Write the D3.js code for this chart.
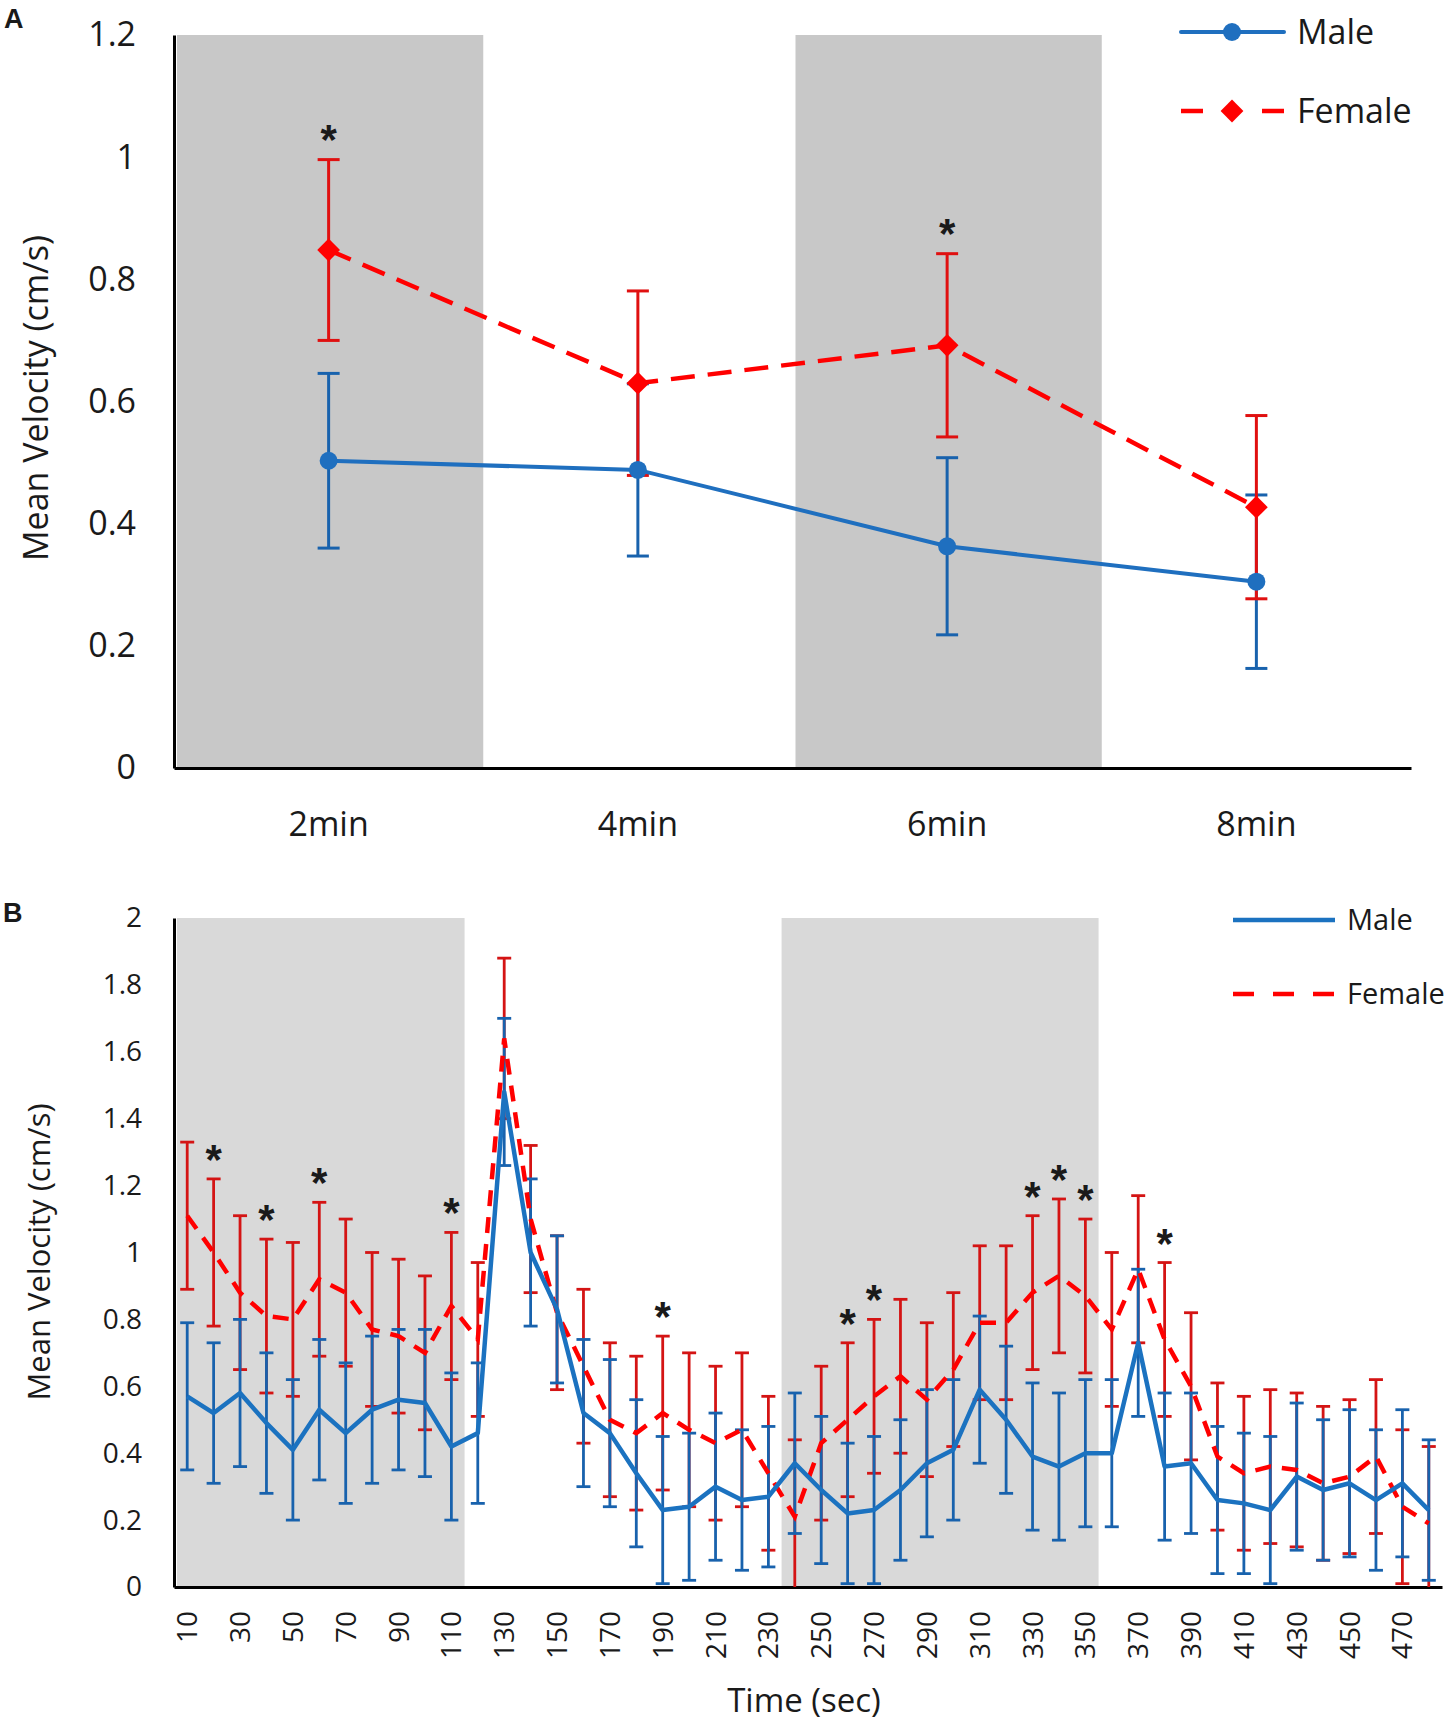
<!DOCTYPE html>
<html>
<head>
<meta charset="utf-8">
<script src="https://cdn.jsdelivr.net/npm/d3@7/dist/d3.min.js"></script>
<style>
  body { margin: 0; background: #fff; }
  text { font-family: "Open Sans", sans-serif; fill: #1a1a1a; }
</style>
</head>
<body>
<div id="chart"></div>
<script>
// ---------- panel A data ----------
var catsA = ["2min", "4min", "6min", "8min"];
var maleA = [0.503, 0.488, 0.363, 0.305];
var maleErrA = [0.143, 0.141, 0.145, 0.142];
var femaleA = [0.848, 0.630, 0.692, 0.427];
var femaleErrA = [0.148, 0.151, 0.150, 0.150];
var shadeA = ["2min", "6min"];
var sigA = ["2min", "6min"];
var ticksA = [0, 0.2, 0.4, 0.6, 0.8, 1, 1.2];

// ---------- panel B data ----------
var timesB = [10, 20, 30, 40, 50, 60, 70, 80, 90, 100, 110, 120,
              130, 140, 150, 160, 170, 180, 190, 200, 210, 220, 230, 240,
              250, 260, 270, 280, 290, 300, 310, 320, 330, 340, 350, 360,
              370, 380, 390, 400, 410, 420, 430, 440, 450, 460, 470, 480];
var maleB = [0.57, 0.52, 0.58, 0.49, 0.41, 0.53, 0.46, 0.53, 0.56, 0.55, 0.42, 0.46,
             1.48, 1.00, 0.83, 0.52, 0.46, 0.34, 0.23, 0.24, 0.30, 0.26, 0.27, 0.37,
             0.29, 0.22, 0.23, 0.29, 0.37, 0.41, 0.59, 0.50, 0.39, 0.36, 0.40, 0.40,
             0.73, 0.36, 0.37, 0.26, 0.25, 0.23, 0.33, 0.29, 0.31, 0.26, 0.31, 0.23];
var maleErrB = [0.22, 0.21, 0.22, 0.21, 0.21, 0.21, 0.21, 0.22, 0.21, 0.22, 0.22, 0.21,
                0.22, 0.22, 0.22, 0.22, 0.22, 0.22, 0.22, 0.22, 0.22, 0.21, 0.21, 0.21,
                0.22, 0.21, 0.22, 0.21, 0.22, 0.21, 0.22, 0.22, 0.22, 0.22, 0.22, 0.22,
                0.22, 0.22, 0.21, 0.22, 0.21, 0.22, 0.22, 0.21, 0.22, 0.21, 0.22, 0.21];
var femaleB = [1.11, 1.00, 0.88, 0.81, 0.80, 0.92, 0.88, 0.77, 0.75, 0.70, 0.84, 0.74,
               1.64, 1.10, 0.82, 0.66, 0.50, 0.46, 0.52, 0.47, 0.43, 0.47, 0.34, 0.21,
               0.43, 0.50, 0.57, 0.63, 0.56, 0.65, 0.79, 0.79, 0.88, 0.93, 0.87, 0.77,
               0.95, 0.74, 0.60, 0.39, 0.34, 0.36, 0.35, 0.31, 0.33, 0.39, 0.24, 0.19];
var femaleErrB = [0.22, 0.22, 0.23, 0.23, 0.23, 0.23, 0.22, 0.23, 0.23, 0.23, 0.22, 0.23,
                  0.24, 0.22, 0.23, 0.23, 0.23, 0.23, 0.23, 0.23, 0.23, 0.23, 0.23, 0.23,
                  0.23, 0.23, 0.23, 0.23, 0.23, 0.23, 0.23, 0.23, 0.23, 0.23, 0.23, 0.23,
                  0.22, 0.23, 0.22, 0.22, 0.23, 0.23, 0.23, 0.23, 0.23, 0.23, 0.23, 0.23];
var shadeB = [[10, 110], [240, 350]];
var sigB = [20, 40, 60, 110, 190, 260, 270, 330, 340, 350, 380];
var ticksB = [0, 0.2, 0.4, 0.6, 0.8, 1, 1.2, 1.4, 1.6, 1.8, 2];
var labelTimesB = [10, 30, 50, 70, 90, 110, 130, 150, 170, 190, 210, 230,
                   250, 270, 290, 310, 330, 350, 370, 390, 410, 430, 450, 470];

var blue = "#1f6fbf", blueErr = "#1862ad";
var red = "#ff0000", redErr = "#e01010";

var svg = d3.select("#chart").append("svg")
  .attr("width", 1455)
  .attr("height", 1732);

// ================= PANEL A =================
var xA = d3.scaleBand().domain(catsA).range([174, 1411]);
var yA = d3.scaleLinear().domain([0, 1.2]).range([768, 35]);
var cxA = function(c) { return xA(c) + xA.bandwidth() / 2; };

var gA = svg.append("g");

gA.selectAll("rect.shade")
  .data(shadeA)
  .enter().append("rect")
  .attr("x", function(d) { return xA(d) + 3; })
  .attr("y", yA(1.2))
  .attr("width", xA.bandwidth() - 3)
  .attr("height", yA(0) - yA(1.2))
  .attr("fill", "#c8c8c8");

var axAy = gA.append("g")
  .attr("transform", "translate(174,0)")
  .call(d3.axisLeft(yA).tickValues(ticksA).tickSize(0).tickPadding(38).tickFormat(String));
var axAx = gA.append("g")
  .attr("transform", "translate(0,768)")
  .call(d3.axisBottom(xA).tickSize(0).tickPadding(44));
[axAy, axAx].forEach(function(a) {
  a.attr("font-size", 34).attr("font-family", null);
  a.select(".domain").attr("stroke", "#000").attr("stroke-width", 3);
});

var dataA = catsA.map(function(c, i) {
  return {c: c, m: maleA[i], me: maleErrA[i], f: femaleA[i], fe: femaleErrA[i]};
});

function errBarsA(key, ekey, color) {
  var g = gA.append("g").attr("stroke", color).attr("stroke-width", 3);
  dataA.forEach(function(d) {
    var x = cxA(d.c), lo = yA(d[key] - d[ekey]), hi = yA(d[key] + d[ekey]);
    g.append("line").attr("x1", x).attr("x2", x).attr("y1", lo).attr("y2", hi);
    g.append("line").attr("x1", x - 11).attr("x2", x + 11).attr("y1", lo).attr("y2", lo);
    g.append("line").attr("x1", x - 11).attr("x2", x + 11).attr("y1", hi).attr("y2", hi);
  });
}
errBarsA("m", "me", blueErr);
errBarsA("f", "fe", redErr);

var lineMA = d3.line().x(function(d) { return cxA(d.c); }).y(function(d) { return yA(d.m); });
var lineFA = d3.line().x(function(d) { return cxA(d.c); }).y(function(d) { return yA(d.f); });

gA.append("path").datum(dataA)
  .attr("d", lineFA).attr("fill", "none")
  .attr("stroke", red).attr("stroke-width", 4.5).attr("stroke-dasharray", "24,13");
gA.append("path").datum(dataA)
  .attr("d", lineMA).attr("fill", "none")
  .attr("stroke", blue).attr("stroke-width", 4);

var diamond = d3.symbol().type(d3.symbolSquare).size(260);
gA.selectAll("path.fm").data(dataA).enter().append("path")
  .attr("d", diamond)
  .attr("transform", function(d) { return "translate(" + cxA(d.c) + "," + yA(d.f) + ") rotate(45)"; })
  .attr("fill", red);
gA.selectAll("circle.mm").data(dataA).enter().append("circle")
  .attr("cx", function(d) { return cxA(d.c); })
  .attr("cy", function(d) { return yA(d.m); })
  .attr("r", 9)
  .attr("fill", blue);

gA.selectAll("text.sig").data(dataA.filter(function(d) { return sigA.indexOf(d.c) >= 0; }))
  .enter().append("text")
  .attr("x", function(d) { return cxA(d.c); })
  .attr("y", function(d) { return yA(d.f + d.fe) - 6; })
  .attr("text-anchor", "middle")
  .style("font-family", "'Liberation Sans', Arial, sans-serif")
  .attr("font-weight", "bold")
  .attr("font-size", 42)
  .text("*");

gA.append("text")
  .attr("transform", "translate(48,398) rotate(-90)")
  .attr("text-anchor", "middle")
  .attr("font-size", 34)
  .text("Mean Velocity (cm/s)");

// legend A
var legA = gA.append("g");
legA.append("line").attr("x1", 1181).attr("x2", 1284).attr("y1", 32).attr("y2", 32)
  .attr("stroke", blue).attr("stroke-width", 4).attr("stroke-linecap", "round");
legA.append("circle").attr("cx", 1232).attr("cy", 32).attr("r", 9).attr("fill", blue);
legA.append("text").attr("x", 1297).attr("y", 44).attr("font-size", 34).text("Male");
legA.append("line").attr("x1", 1181).attr("x2", 1284).attr("y1", 111).attr("y2", 111)
  .attr("stroke", red).attr("stroke-width", 4.5).attr("stroke-dasharray", "22,59,22");
legA.append("path").attr("d", diamond).attr("transform", "translate(1232,111) rotate(45)").attr("fill", red);
legA.append("text").attr("x", 1297).attr("y", 123).attr("font-size", 34).text("Female");

svg.append("text").attr("x", 4).attr("y", 28)
  .style("font-family", "'Liberation Sans', Arial, sans-serif")
  .attr("font-weight", "bold").attr("font-size", 27).text("A");

// ================= PANEL B =================
var xB = d3.scaleBand().domain(timesB).range([174, 1442]);
var yB = d3.scaleLinear().domain([0, 2]).range([1587, 918]);
var cxB = function(t) { return xB(t) + xB.bandwidth() / 2; };

var gB = svg.append("g");

gB.selectAll("rect.shade")
  .data(shadeB)
  .enter().append("rect")
  .attr("x", function(d) { return xB(d[0]) + (d[0] === timesB[0] ? 3 : 0); })
  .attr("y", yB(2))
  .attr("width", function(d) { return xB(d[1]) + xB.bandwidth() - xB(d[0]) - (d[0] === timesB[0] ? 3 : 0); })
  .attr("height", yB(0) - yB(2))
  .attr("fill", "#d9d9d9");

var axBy = gB.append("g")
  .attr("transform", "translate(174,0)")
  .call(d3.axisLeft(yB).tickValues(ticksB).tickSize(0).tickPadding(32).tickFormat(String));
var axBx = gB.append("g")
  .attr("transform", "translate(0,1587)")
  .call(d3.axisBottom(xB).tickValues(labelTimesB).tickSize(0));
[axBy, axBx].forEach(function(a) {
  a.attr("font-size", 28).attr("font-family", null);
  a.select(".domain").attr("stroke", "#000").attr("stroke-width", 3);
});
axBx.selectAll(".tick text")
  .attr("transform", "rotate(-90)")
  .attr("text-anchor", "end")
  .attr("x", -24)
  .attr("y", 0)
  .attr("dy", "0.36em");

var dataB = timesB.map(function(t, i) {
  return {t: t, m: maleB[i], me: maleErrB[i], f: femaleB[i], fe: femaleErrB[i]};
});

function errBarsB(key, ekey, color) {
  var g = gB.append("g").attr("stroke", color).attr("stroke-width", 2.8);
  dataB.forEach(function(d) {
    var x = cxB(d.t);
    var loV = d[key] - d[ekey];
    var lo = yB(Math.max(0, loV)), hi = yB(d[key] + d[ekey]);
    g.append("line").attr("x1", x).attr("x2", x).attr("y1", lo).attr("y2", hi);
    if (loV > 0) g.append("line").attr("x1", x - 7).attr("x2", x + 7).attr("y1", lo).attr("y2", lo);
    g.append("line").attr("x1", x - 7).attr("x2", x + 7).attr("y1", hi).attr("y2", hi);
  });
}
errBarsB("f", "fe", "#d41414");
errBarsB("m", "me", blueErr);

var lineMB = d3.line().x(function(d) { return cxB(d.t); }).y(function(d) { return yB(d.m); });
var lineFB = d3.line().x(function(d) { return cxB(d.t); }).y(function(d) { return yB(d.f); });

gB.append("path").datum(dataB)
  .attr("d", lineFB).attr("fill", "none")
  .attr("stroke", red).attr("stroke-width", 4.5).attr("stroke-dasharray", "16,11");
gB.append("path").datum(dataB)
  .attr("d", lineMB).attr("fill", "none")
  .attr("stroke", "#1b72c0").attr("stroke-width", 4.5).attr("stroke-linejoin", "round");

gB.selectAll("text.sig").data(dataB.filter(function(d) { return sigB.indexOf(d.t) >= 0; }))
  .enter().append("text")
  .attr("x", function(d) { return cxB(d.t); })
  .attr("y", function(d) { return yB(d.f + d.fe) - 5; })
  .attr("text-anchor", "middle")
  .style("font-family", "'Liberation Sans', Arial, sans-serif")
  .attr("font-weight", "bold")
  .attr("font-size", 42)
  .text("*");

gB.append("text")
  .attr("transform", "translate(50,1252) rotate(-90)")
  .attr("text-anchor", "middle")
  .attr("font-size", 31)
  .text("Mean Velocity (cm/s)");

gB.append("text")
  .attr("x", 804).attr("y", 1712)
  .attr("text-anchor", "middle")
  .attr("font-size", 33)
  .text("Time (sec)");

// legend B
var legB = gB.append("g");
legB.append("line").attr("x1", 1233).attr("x2", 1335).attr("y1", 920).attr("y2", 920)
  .attr("stroke", "#1b72c0").attr("stroke-width", 4.5);
legB.append("text").attr("x", 1347).attr("y", 930).attr("font-size", 29).text("Male");
legB.append("line").attr("x1", 1233).attr("x2", 1335).attr("y1", 994).attr("y2", 994)
  .attr("stroke", red).attr("stroke-width", 4.5).attr("stroke-dasharray", "21,19");
legB.append("text").attr("x", 1347).attr("y", 1004).attr("font-size", 29).text("Female");

svg.append("text").attr("x", 3).attr("y", 922)
  .style("font-family", "'Liberation Sans', Arial, sans-serif")
  .attr("font-weight", "bold").attr("font-size", 27).text("B");
</script>
</body>
</html>
